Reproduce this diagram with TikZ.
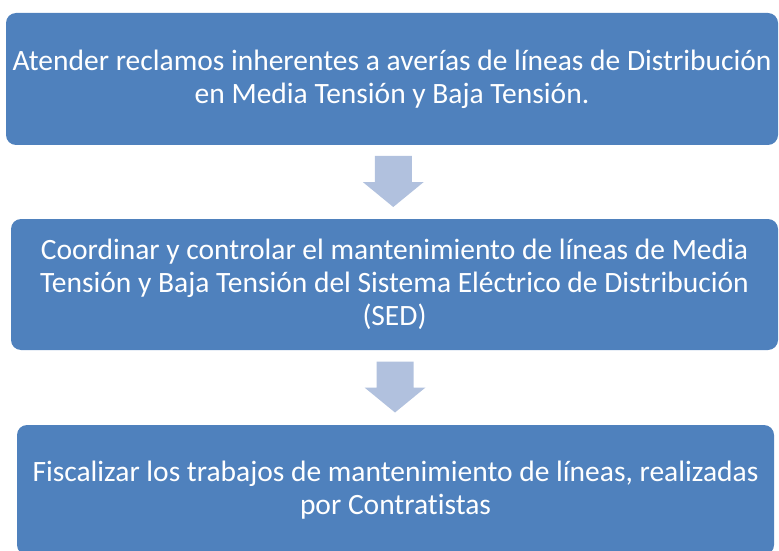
\documentclass[tikz,border=0pt]{standalone}
\usepackage{fontspec}
\setmainfont{Carlito}[Ligatures=NoCommon]
\usetikzlibrary{calc}
\definecolor{boxblue}{HTML}{4F81BD}
\definecolor{arrowblue}{HTML}{B1C1DE}
\begin{document}
\begin{tikzpicture}[x=1pt,y=1pt,
  paso/.style={fill=boxblue,rounded corners=10pt,text=white,align=center,
    font=\fontsize{29.5}{33}\selectfont,inner sep=0pt},
  flecha/.style={fill=arrowblue,draw=none}]
\useasboundingbox (0,0) rectangle (779,550);      %marco

\node[paso,minimum width=772,minimum height=132] (tarea1) at (392,471)
  {Atender reclamos inherentes a averías de líneas de Distribución\\en Media Tensión y Baja Tensión.};
\node[paso,minimum width=767,minimum height=131] (tarea2) at (394.5,265.5)
  {Coordinar y controlar el mantenimiento de líneas de Media\\Tensión y Baja Tensión del Sistema Eléctrico de Distribución\\(SED)};
\node[paso,minimum width=757,minimum height=130] (tarea3) at (395.5,60)
  {Fiscalizar los trabajos de mantenimiento de líneas, realizadas\\por Contratistas};      %cajas

\coordinate (m1) at ($(tarea1.south)!0.5!(tarea2.north)$);
\coordinate (m2) at ($(tarea2.south)!0.5!(tarea3.north)$);
\foreach \m in {m1,m2}
  \fill[flecha] ($(\m)+(-18.5,26)$) -- ($(\m)+(18.5,26)$) -- ($(\m)+(18.5,0)$)
    -- ($(\m)+(30.5,0)$) -- ($(\m)+(0,-25)$) -- ($(\m)+(-30.5,0)$)
    -- ($(\m)+(-18.5,0)$) -- cycle;      %flechas
\end{tikzpicture}
\end{document}
